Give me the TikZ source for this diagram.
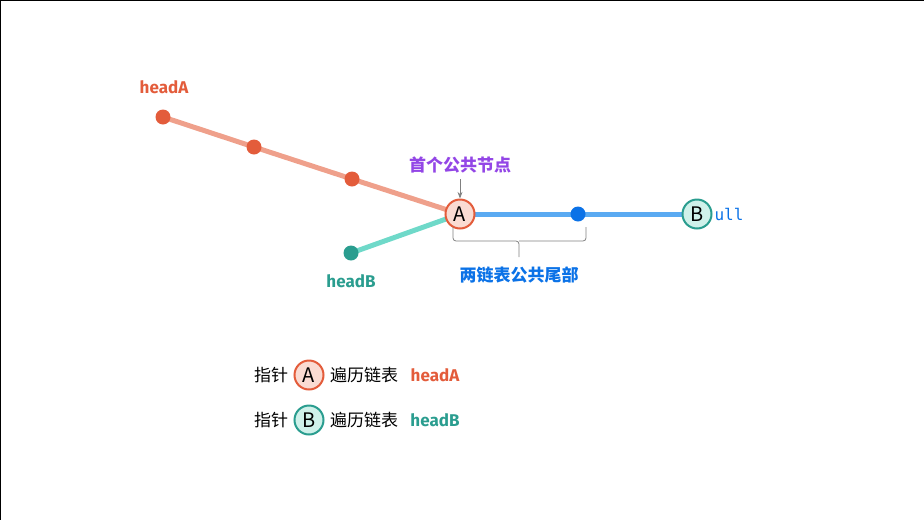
\documentclass[tikz,border=0pt]{standalone}
\usepackage{fontspec}
\setmainfont{Noto Sans CJK SC}
\newfontfamily\headfont{Fira Sans}
\setmonofont{DejaVu Sans Mono}
\usetikzlibrary{arrows.meta,backgrounds}

\definecolor{listA}{HTML}{E35C3B}
\definecolor{listAline}{HTML}{EFA08B}
\definecolor{listAfill}{HTML}{FADBD2}
\definecolor{listB}{HTML}{2A9D8F}
\definecolor{listBline}{HTML}{6FD9C9}
\definecolor{listBfill}{HTML}{CFF1EA}
\definecolor{tail}{HTML}{0B72E7}
\definecolor{tailline}{HTML}{5AAAF2}
\definecolor{firstnode}{HTML}{9346E6}

\begin{document}
\begin{tikzpicture}[x=1pt,y=-1pt,font=\fontsize{17}{20}\selectfont,>=Stealth]
    \tikzset{
        dot/.style={circle,inner sep=0pt,minimum size=15pt},
        dotA/.style={dot,fill=listA},
        dotB/.style={dot,fill=listB},
        dotT/.style={dot,fill=tail},
        ptr/.style={circle,line width=2pt,inner sep=0pt,minimum size=29pt,
            font=\fontsize{20}{22}\selectfont},
        ptrA/.style={ptr,draw=listA,fill=listAfill},
        ptrB/.style={ptr,draw=listB,fill=listBfill},
        headlabel/.style={font=\headfont\bfseries\fontsize{17}{20}\selectfont},
        link/.style={line width=5pt},
        note/.style={draw=black!50,line width=0.8pt}
    }
    \useasboundingbox (0,0) rectangle (924,520);
    \draw[line width=2pt] (0,520) -- (0,0) -- (924,0);

    % list A
    \node[dotA] (a1) at (163,117) {};
    \node[dotA] (a2) at (254,147) {};
    \node[dotA] (a3) at (352,179) {};
    \node[headlabel,text=listA] (labA) at (164,87) {headA};

    % list B
    \node[dotB] (b1) at (351,253) {};
    \node[headlabel,text=listB] (labB) at (351,281) {headB};

    % common tail
    \node[ptrA] (pA) at (460,214) {A};
    \node[dotT] (t1) at (578,214) {};
    \node[ptrB] (pB) at (697,214) {B};
    \node[anchor=west,text=tail,font=\ttfamily\fontsize{16}{19}\selectfont] (nul) at (711,214) {ull};

    \begin{scope}[on background layer]
        \draw[link,listAline] (a1.center) -- (a2.center) -- (a3.center) -- (pA.center);
        \draw[link,listBline] (b1.center) -- (pA.center);
        \draw[link,tailline] (pA.center) -- (t1.center) -- (pB.center);
    \end{scope}

    \node[text=firstnode,font=\bfseries\fontsize{17}{20}\selectfont] (first) at (460,165) {首个公共节点};
    \draw[->,note] (460,179) -- (pA.north);

    \coordinate (brL) at (453,227);
    \coordinate (brR) at (586,227);
    \coordinate (brM) at (519,257);
    \draw[note,rounded corners=3pt] (brL) |- (519,241) -- (brM);
    \draw[note,rounded corners=3pt] (brR) |- (519,241);
    \node[text=tail,font=\bfseries\fontsize{17}{20}\selectfont] (tailtxt) at (519,275) {两链表公共尾部};

    % legend
    \node (l1a) at (271,375) {指针};
    \node[ptrA] (l1b) at (309,375) {A};
    \node (l1c) at (364,375) {遍历链表};
    \node[headlabel,text=listA] (l1d) at (435,375) {headA};

    \node (l2a) at (271,420) {指针};
    \node[ptrB] (l2b) at (309,420) {B};
    \node (l2c) at (364,420) {遍历链表};
    \node[headlabel,text=listB] (l2d) at (435,420) {headB};
\end{tikzpicture}
\end{document}
